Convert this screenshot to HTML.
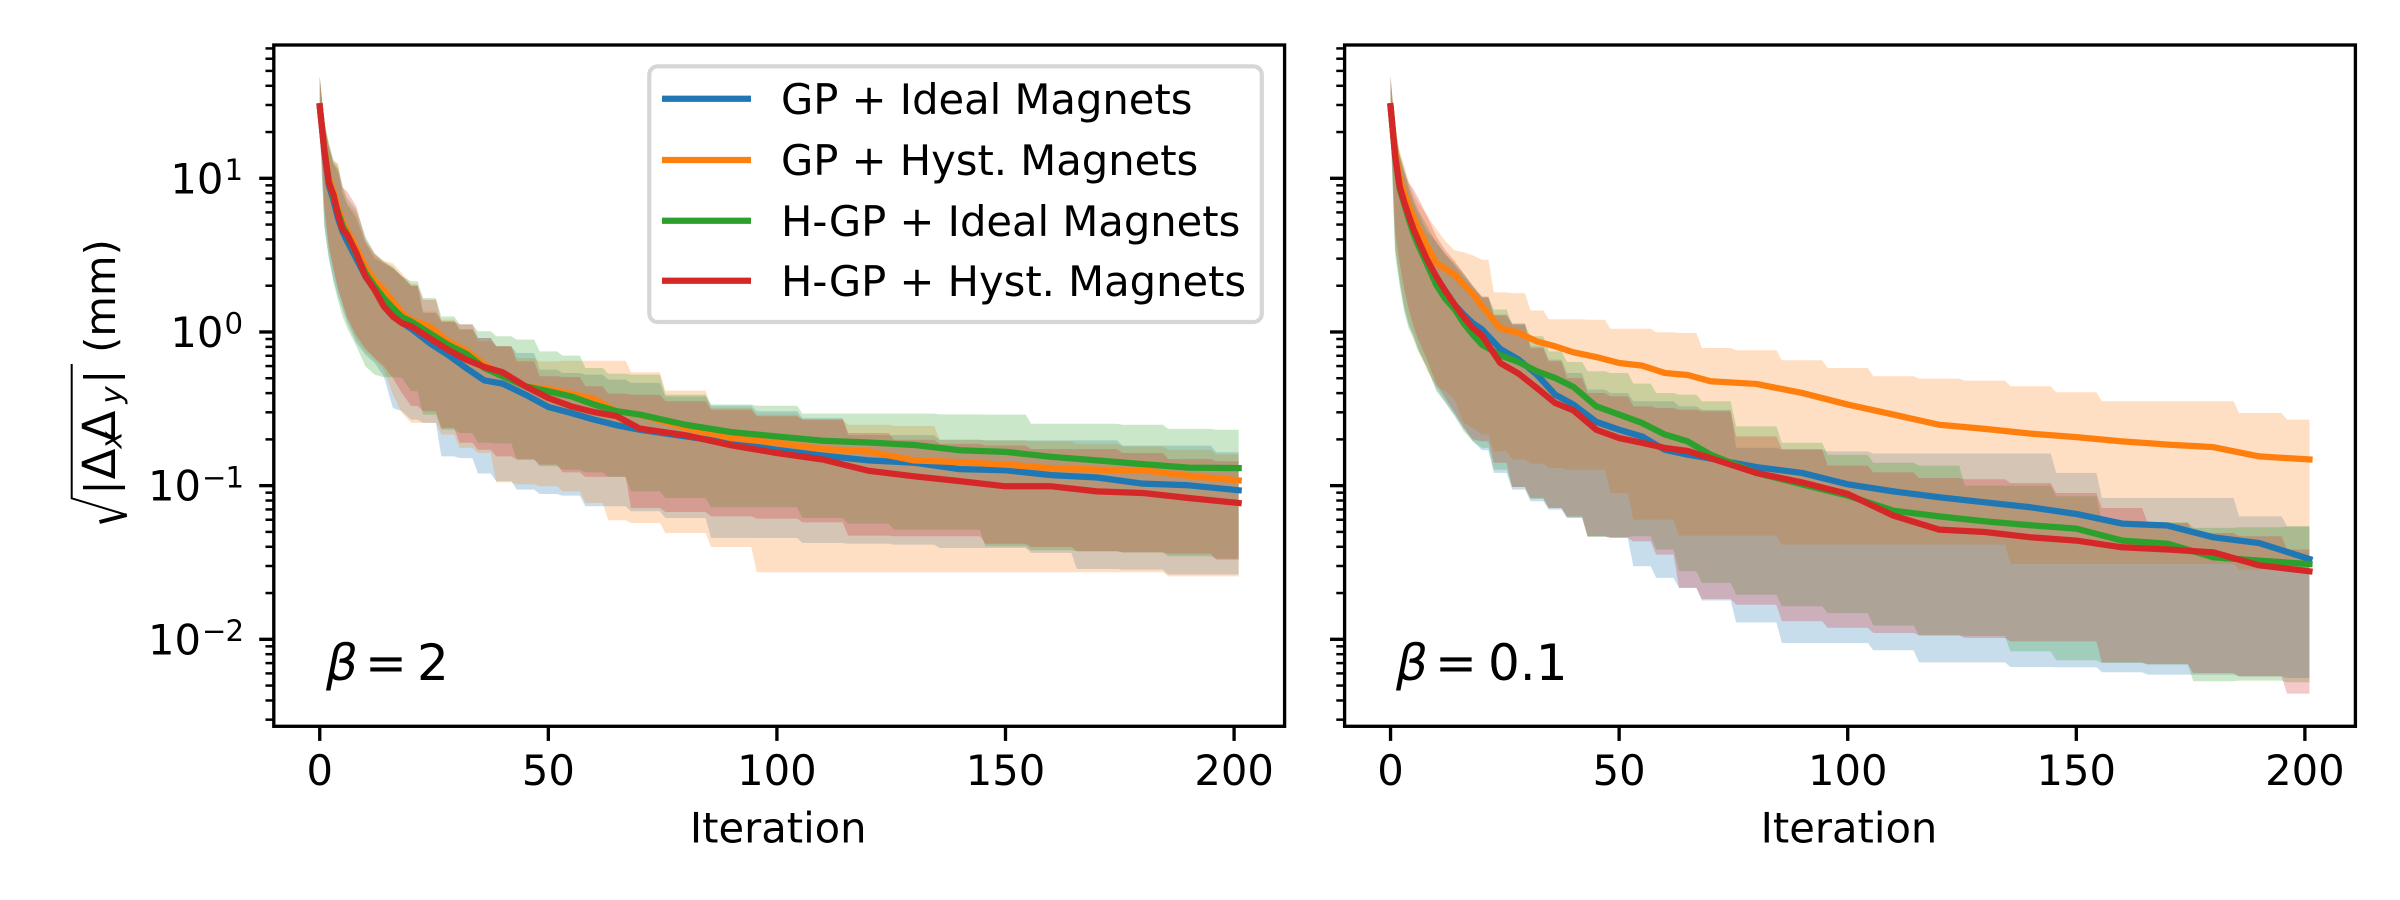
<!DOCTYPE html>
<html lang="en">
<head>
<meta charset="utf-8">
<title>Beam size vs iteration</title>
<style>
html,body{margin:0;padding:0;background:#fff;}
svg{display:block;}
text{font-family:"DejaVu Sans","Liberation Sans",sans-serif;fill:#000;}
</style>
</head>
<body>
<svg id="chart" xmlns="http://www.w3.org/2000/svg" width="2400" height="900" viewBox="0 0 2400 900">
<rect x="0" y="0" width="2400" height="900" fill="#ffffff"/>
<g id="panels"></g>

<g>
  <path d="M71.7 364 L71.7 498.3 L126.7 515" fill="none" stroke="#000" stroke-width="2"/>
  <path d="M126.7 515 L99.5 522" fill="none" stroke="#000" stroke-width="4"/>
  <g transform="translate(115,0) rotate(-90)">
    <text x="-487.5" y="0" font-size="41.67" text-anchor="middle">|</text>
    <text x="-464" y="0" font-size="45" text-anchor="middle">Δ</text>
    <text x="-440" y="6.5" font-size="29.2" font-style="italic" text-anchor="middle">x</text>
    <text x="-426" y="0" font-size="45" text-anchor="middle">Δ</text>
    <text x="-395" y="6.5" font-size="29.2" font-style="italic" text-anchor="middle">y</text>
    <text x="-376.7" y="0" font-size="41.67" text-anchor="middle">|</text>
    <text x="-296" y="0" font-size="41.67" text-anchor="middle">(mm)</text>
  </g>
</g>

<g font-size="50">
  <text x="326" y="680" font-style="italic">β</text>
  <text x="365" y="680">=</text>
  <text x="417" y="680">2</text>
</g>
<g font-size="50">
  <text x="1396" y="680" font-style="italic">β</text>
  <text x="1435" y="680">=</text>
  <text x="1488" y="680">0.1</text>
</g>

<g>
  <rect x="649.3" y="66.3" width="612.5" height="255.7" rx="8.33" ry="8.33" fill="#ffffff" fill-opacity="0.8" stroke="#cccccc" stroke-opacity="0.8" stroke-width="4.17"/>
  <g>
    <line x1="662" x2="751" y1="98.7" y2="98.7" stroke="#1f77b4" stroke-width="6.25"/>
    <text x="781" y="114" font-size="41.67">GP + Ideal Magnets</text>
  </g>
  <g>
    <line x1="662" x2="751" y1="160" y2="160" stroke="#ff7f0e" stroke-width="6.25"/>
    <text x="781" y="175" font-size="41.67">GP + Hyst. Magnets</text>
  </g>
  <g>
    <line x1="662" x2="751" y1="220.7" y2="220.7" stroke="#2ca02c" stroke-width="6.25"/>
    <text x="781" y="236" font-size="41.67">H-GP + Ideal Magnets</text>
  </g>
  <g>
    <line x1="662" x2="751" y1="280.7" y2="280.7" stroke="#d62728" stroke-width="6.25"/>
    <text x="781" y="296" font-size="41.67">H-GP + Hyst. Magnets</text>
  </g>
</g>
</svg>

<script>
// Tick values
const xTickValues = [0, 50, 100, 150, 200];
const yMajorExponents = [1, 0, -1, -2];
const yMinorMultipliers = [2, 3, 4, 5, 6, 7, 8, 9];
const yMinorExponents = [1, 0, -1, -2, -3];

// Iteration knots shared by all series
const iterations = [0,1,2,3,4,5,6,8,10,12,14,16,18,20,24,28,32,36,40,45,50,55,60,65,70,80,90,100,110,120,130,140,150,160,170,180,190,201];

// Left panel (beta = 2), sqrt(|dx dy|) in mm
const leftBlueMean = [29.4,15,9,7.2,5.5,4.5,3.9,3,2.3,1.9,1.55,1.3,1.15,1.05,.848,.711,.583,.484,.461,.391,.325,.297,.269,.247,.231,.209,.19,.171,.157,.146,.141,.128,.126,.117,.113,.103,.1005,.0933];
const leftBlueUpper = [46,22,16,12.5,11,8,6.7,5.5,3.8,3,2.8,2.6,2.3,2,1.33,1.17,1.04,.914,.807,.73,.569,.541,.528,.49,.466,.38,.331,.305,.275,.213,.213,.199,.197,.197,.197,.182,.182,.165];
const leftBlueLower = [22,5,3,2.2,1.71,1.4,1.15,.85,.711,.628,.515,.32,.305,.269,.256,.155,.151,.12,.107,.0942,.0883,.0861,.0734,.0734,.0681,.0616,.0457,.0456,.0423,.0419,.0413,.0393,.0393,.0365,.0287,.0284,.0264,.0264];
const leftOrangeMean = [29.4,16,10,8.2,6.3,5.2,4.6,3.5,2.65,2.16,1.88,1.58,1.33,1.2,1.09,.869,.76,.613,.528,.443,.426,.397,.366,.305,.29,.237,.204,.19,.173,.167,.146,.142,.137,.13,.127,.126,.116,.108];
const leftOrangeUpper = [46,22,16,12.9,12.6,8.5,6.9,5.9,3.9,3.2,2.9,2.8,2.4,2.05,1.36,1.2,1.04,.869,.807,.677,.644,.65,.65,.65,.547,.415,.32,.29,.269,.249,.245,.199,.197,.194,.187,.18,.171,.16];
const leftOrangeLower = [24,6,3.5,2.5,1.9,1.5,1.2,.9,.748,.661,.569,.391,.297,.256,.256,.215,.176,.163,.105,.102,.099,.0918,.0771,.0595,.0571,.0492,.0399,.0273,.0273,.0273,.0273,.0273,.0273,.0273,.0273,.0273,.0257,.0257];
const leftGreenMean = [29.4,15.5,9.5,7.6,6,4.9,4.3,3.2,2.42,1.98,1.66,1.43,1.25,1.17,.985,.827,.723,.583,.515,.443,.411,.381,.337,.305,.29,.249,.223,.209,.196,.191,.184,.17,.166,.154,.146,.138,.131,.13];
const leftGreenUpper = [46,23.5,17,13.2,12,8.87,7.45,6.25,4.19,3.27,2.88,2.67,2.3,2.14,1.66,1.26,1.12,1.01,.937,.891,.748,.701,.583,.536,.528,.391,.337,.331,.294,.294,.294,.291,.29,.253,.253,.249,.234,.231];
const leftGreenLower = [20,4.8,3,2.1,1.6,1.26,1.06,.807,.598,.528,.507,.509,.502,.411,.29,.231,.22,.19,.188,.148,.134,.127,.122,.114,.0918,.0831,.0723,.0723,.0616,.0566,.0517,.0517,.0403,.0379,.0374,.0368,.0347,.0335];
const leftRedMean = [29.4,15,9.33,7.83,5.8,4.63,4.3,3.27,2.3,1.88,1.47,1.26,1.14,1.09,.914,.767,.661,.592,.547,.443,.372,.328,.301,.283,.235,.213,.183,.163,.148,.125,.115,.107,.099,.099,.0918,.0896,.0831,.0771];
const leftRedUpper = [46,23,16.5,12.5,11.5,8.7,8.2,6.58,4,3.2,2.85,2.6,2.3,2,1.62,1.17,1.12,.914,.807,.644,.515,.509,.443,.397,.39,.354,.312,.283,.269,.22,.199,.187,.182,.173,.173,.163,.149,.144];
const leftRedLower = [24,6.5,3.6,2.6,1.9,1.55,1.25,.95,.78,.68,.6,.5,.4,.33,.305,.237,.19,.171,.155,.148,.137,.122,.114,.114,.0716,.0674,.0631,.061,.0577,.0473,.0468,.0468,.0419,.0399,.0374,.0368,.0361,.033];

// Right panel (beta = 0.1)
const rightBlueMean = [29.4,14,8.6,6.9,5.5,4.5,3.8,2.9,2.25,1.85,1.5,1.3,1.14,1.04,.776,.661,.528,.391,.337,.26,.231,.209,.171,.159,.15,.132,.121,.102,.0918,.084,.0779,.0723,.0654,.0566,.055,.0461,.0423,.0333];
const rightBlueUpper = [46,20,14,11,8.5,7,6,4.5,3.9,3.2,2.7,2.3,1.95,1.68,1.3,1.14,.807,.661,.541,.422,.401,.354,.354,.328,.312,.176,.171,.167,.162,.162,.162,.162,.121,.0831,.0831,.0831,.0631,.0543];
const rightBlueLower = [22,3.5,2.1,1.4,1.1,.95,.78,.58,.43,.35,.29,.235,.195,.17,.121,.0942,.0791,.0698,.0616,.0468,.0457,.0299,.0251,.0216,.0179,.0129,.00946,.00946,.00848,.00708,.00708,.00661,.00658,.0061,.00589,.00589,.00574,.0056];
const rightOrangeMean = [29.4,15,10,8,6.6,5.6,4.8,3.6,2.81,2.57,2.36,2.03,1.77,1.47,1.06,.985,.869,.807,.737,.687,.628,.604,.541,.525,.478,.459,.401,.337,.29,.249,.234,.218,.207,.194,.185,.178,.155,.148];
const rightOrangeUpper = [46,22,15,12,9.5,8,7,5.7,4.7,3.9,3.4,3.3,3.15,2.95,1.81,1.79,1.38,1.21,1.21,1.2,1.05,1.05,.995,.985,.787,.76,.654,.583,.515,.497,.482,.443,.405,.354,.354,.354,.297,.269];
const rightOrangeLower = [24,3.6,2.2,1.5,1.15,.95,.78,.56,.443,.411,.363,.256,.237,.215,.167,.148,.139,.13,.127,.127,.0896,.0601,.0601,.0473,.0473,.0473,.0413,.0413,.0413,.0413,.0413,.0309,.0309,.0309,.0309,.0309,.0284,.0284];
const rightGreenMean = [29.4,14,8.6,6.8,5.4,4.4,3.7,2.75,2.03,1.64,1.41,1.14,.962,.827,.705,.638,.555,.502,.439,.328,.29,.256,.215,.194,.159,.121,.102,.0861,.0687,.0631,.0586,.0552,.0525,.0439,.0419,.0342,.0325,.0309];
const rightGreenUpper = [46,21,14.5,11.5,9,7.4,6.3,4.9,3.8,3.2,2.8,2.4,2,1.68,1.4,1.12,.937,.748,.638,.555,.541,.461,.401,.391,.354,.243,.19,.159,.141,.135,.1,.1,.0853,.0586,.0577,.0531,.0536,.0543];
const rightGreenLower = [20,3.2,2,1.35,1.05,.9,.75,.592,.411,.345,.283,.226,.194,.176,.127,.098,.0819,.0716,.0622,.0463,.0463,.0468,.0384,.0277,.0233,.0195,.0164,.0148,.0123,.0106,.0105,.00835,.0073,.00701,.00684,.00533,.00538,.00525];
const rightRedMean = [29.4,14,8.85,7,5.7,4.7,4,2.95,2.3,1.84,1.51,1.25,1.06,.947,.628,.536,.432,.345,.309,.231,.204,.19,.176,.168,.151,.121,.105,.0883,.0638,.0517,.0499,.0461,.0439,.0397,.0384,.0368,.0303,.0277];
const rightRedUpper = [46,20,14,11,9.3,8.5,7.5,5.7,4.2,3.4,2.9,2.4,2,1.7,1.28,1.12,.787,.644,.502,.401,.381,.328,.32,.312,.305,.209,.173,.135,.122,.112,.11,.104,.0896,.0716,.0571,.0492,.0468,.0384];
const rightRedLower = [24,4.5,2.8,1.9,1.4,1.1,.9,.66,.46,.37,.3,.24,.2,.194,.141,.098,.0833,.0716,.063,.0468,.0457,.0434,.0356,.0216,.0183,.0168,.0131,.0119,.011,.0106,.0102,.0097,.0097,.00708,.0069,.00604,.00574,.00443];

const seriesNames = ['gp-ideal', 'gp-hyst', 'hgp-ideal', 'hgp-hyst'];
const seriesColors = ['#1f77b4', '#ff7f0e', '#2ca02c', '#d62728'];

const SVG_NS = 'http://www.w3.org/2000/svg';
const AXES_TOP = 45;
const AXES_BOTTOM = 726.3;
const X_MIN = -10.05;
const X_MAX = 211.05;
const Y_DECADE_PX = 153.67;
const Y_AT_TEN = 178.3;
const STEP_MIN_SPACING = 4;
const STEP_HALF_WIDTH = 0.6;

function yScale(v) {
  return Y_AT_TEN + (1 - Math.log10(v)) * Y_DECADE_PX;
}
function xScaleFor(left, right) {
  return function (t) {
    return left + (t - X_MIN) * (right - left) / (X_MAX - X_MIN);
  };
}
function make(tag, attrs, parent) {
  const el = document.createElementNS(SVG_NS, tag);
  for (const k in attrs) el.setAttribute(k, attrs[k]);
  parent.appendChild(el);
  return el;
}
// Best-so-far bands fall in discrete steps: hold each read value up to the midpoint between knots.
function stepVertices(values) {
  const pts = [];
  iterations.forEach(function (t, k) {
    pts.push([t, values[k]]);
    if (k < iterations.length - 1) {
      const next = iterations[k + 1];
      if (next - t >= STEP_MIN_SPACING) {
        const mid = (t + next) / 2;
        pts.push([mid - STEP_HALF_WIDTH, values[k]]);
        pts.push([mid + STEP_HALF_WIDTH, values[k + 1]]);
      }
    }
  });
  return pts;
}

function drawPanel(root, panelName, left, right, showYLabels, means, uppers, lowers) {
  const x = xScaleFor(left, right);
  const g = make('g', {}, root);
  
  

  // Bands first, lines on top of every band.
  means.forEach(function (mean, i) {
    const upperPts = stepVertices(uppers[i]);
    const lowerPts = stepVertices(lowers[i]).reverse();
    const d = upperPts.concat(lowerPts).map(function (p, k) {
      return (k ? 'L' : 'M') + x(p[0]).toFixed(2) + ' ' + yScale(p[1]).toFixed(2);
    }).join('');
    const band = make('path', { d: d + 'Z', fill: seriesColors[i], 'fill-opacity': 0.25, stroke: 'none' }, g);
    
    
  });
  means.forEach(function (mean, i) {
    let d = '';
    iterations.forEach(function (t, k) {
      d += (k ? 'L' : 'M') + x(t).toFixed(2) + ' ' + yScale(mean[k]).toFixed(2);
    });
    const line = make('path', { d: d, fill: 'none', stroke: seriesColors[i], 'stroke-width': 6.25, 'stroke-linecap': 'square', 'stroke-linejoin': 'round' }, g);
    
    
  });

  // X ticks and labels
  xTickValues.forEach(function (v) {
    const tick = make('line', { x1: x(v), x2: x(v), y1: AXES_BOTTOM, y2: AXES_BOTTOM + 14.6, stroke: '#000', 'stroke-width': 3.33 }, g);
    
    
    const label = make('text', { x: x(v), y: 785, 'font-size': 41.67, 'text-anchor': 'middle' }, g);
    label.textContent = String(v);
    
    
  });

  // Y major ticks and labels
  yMajorExponents.forEach(function (e) {
    const y = yScale(Math.pow(10, e));
    const tick = make('line', { x1: left - 14.6, x2: left, y1: y, y2: y, stroke: '#000', 'stroke-width': 3.33 }, g);
    
    
    if (showYLabels) {
      const label = make('text', { x: 243, y: y + 15, 'font-size': 41.67, 'text-anchor': 'end' }, g);
      
      
      const base = make('tspan', {}, label);
      base.textContent = '10';
      const sup = make('tspan', { dx: 1, dy: -13.3, 'font-size': 29.17, 'letter-spacing': e < 0 ? -1 : 0 }, label);
      sup.textContent = String(e).replace('-', '\u2212');
    }
  });

  // Y minor ticks
  yMinorExponents.forEach(function (e) {
    yMinorMultipliers.forEach(function (m) {
      const y = yScale(m * Math.pow(10, e));
      if (y < AXES_TOP || y > AXES_BOTTOM) return;
      const tick = make('line', { x1: left - 8.33, x2: left, y1: y, y2: y, stroke: '#000', 'stroke-width': 2.5 }, g);
      
      
    });
  });

  // Frame
  const frame = make('rect', { x: left, y: AXES_TOP, width: right - left, height: AXES_BOTTOM - AXES_TOP, fill: 'none', stroke: '#000', 'stroke-width': 3.33 }, g);
  
  

  // X axis title
  const title = make('text', { x: (left + right) / 2 - 1, y: 842.7, 'font-size': 41.67, 'text-anchor': 'middle' }, g);
  title.textContent = 'Iteration';
  
  
}

const panelsRoot = document.getElementById('panels');
drawPanel(panelsRoot, 'panel-beta-2', 273.8, 1284.6, true,
  [leftBlueMean, leftOrangeMean, leftGreenMean, leftRedMean],
  [leftBlueUpper, leftOrangeUpper, leftGreenUpper, leftRedUpper],
  [leftBlueLower, leftOrangeLower, leftGreenLower, leftRedLower]);
drawPanel(panelsRoot, 'panel-beta-0-1', 1344.6, 2355.4, false,
  [rightBlueMean, rightOrangeMean, rightGreenMean, rightRedMean],
  [rightBlueUpper, rightOrangeUpper, rightGreenUpper, rightRedUpper],
  [rightBlueLower, rightOrangeLower, rightGreenLower, rightRedLower]);
</script>
</body>
</html>
